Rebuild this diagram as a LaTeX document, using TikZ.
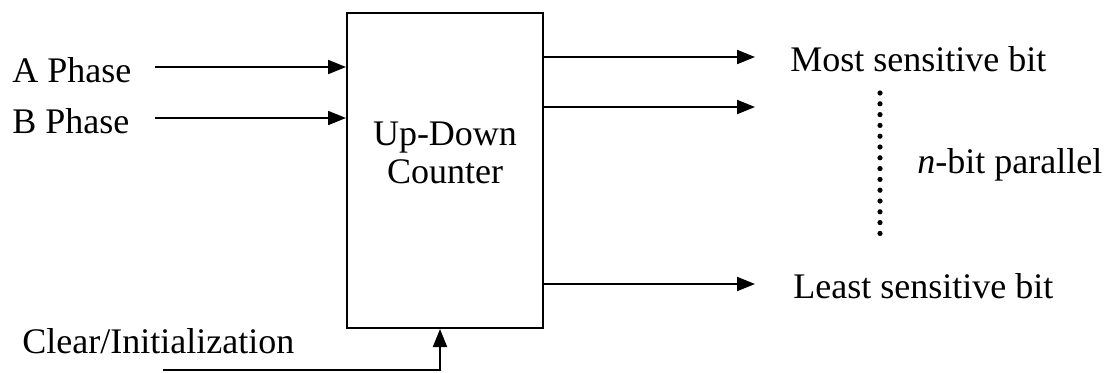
\documentclass[tikz,border=0pt]{standalone}
\usepackage{fontspec}
\setmainfont{Liberation Serif}
\usetikzlibrary{arrows.meta,calc,positioning}
\tikzset{
  block/.style={draw,rectangle,line width=1pt,minimum width=98pt,minimum height=157.5pt,inner sep=0pt},
  lbl/.style={anchor=west,inner sep=0pt,font=\fontsize{18}{21}\selectfont},
  sig/.style={-{Triangle[length=9pt,width=7pt]},line width=1pt}
}
\begin{document}
\begin{tikzpicture}[x=0.5pt,y=-0.5pt]
  \useasboundingbox (0,0) rectangle (1112,372);
  \node[block] (cnt) at (445,170.5) {};
  \node[lbl,anchor=center,align=center] (cnttxt) at (445,153) {Up-Down\\[-2pt]Counter};
  % inputs
  \node[lbl] (a) at (12,70) {A Phase};
  \node[lbl] (b) at (12,121) {B Phase};
  \coordinate (ain) at (155,67);
  \coordinate (bin) at (155,118);
  \draw[sig] (ain)--(cnt.west |- ain);
  \draw[sig] (bin)--(cnt.west |- bin);
  % outputs
  \coordinate (o1) at (755,57);
  \coordinate (o2) at (755,107);
  \coordinate (on) at (755,284);
  \draw[sig] (cnt.east |- o1)--(o1);
  \draw[sig] (cnt.east |- o2)--(o2);
  \draw[sig] (cnt.east |- on)--(on);
  \node[lbl] (msb) at (790,59) {Most sensitive bit};
  \node[lbl] (lsb) at (793,286) {Least sensitive bit};
  \node[lbl] (par) at (917,165) {\textit{n}-bit parallel};
  \coordinate (dtop) at (880,93);
  \coordinate (dbot) at (880,234);
  \draw[line width=2.6pt,line cap=round,dash pattern=on 0pt off 5.4pt] (dtop)--(dbot);
  % clear
  \node[lbl] (clr) at (22,341) {Clear/Initialization};
  \coordinate (cin) at (163,370);
  \coordinate (cup) at (440,370);
  \draw[sig] (cin)--(cup)--(cup |- cnt.south);
\end{tikzpicture}
\end{document}
